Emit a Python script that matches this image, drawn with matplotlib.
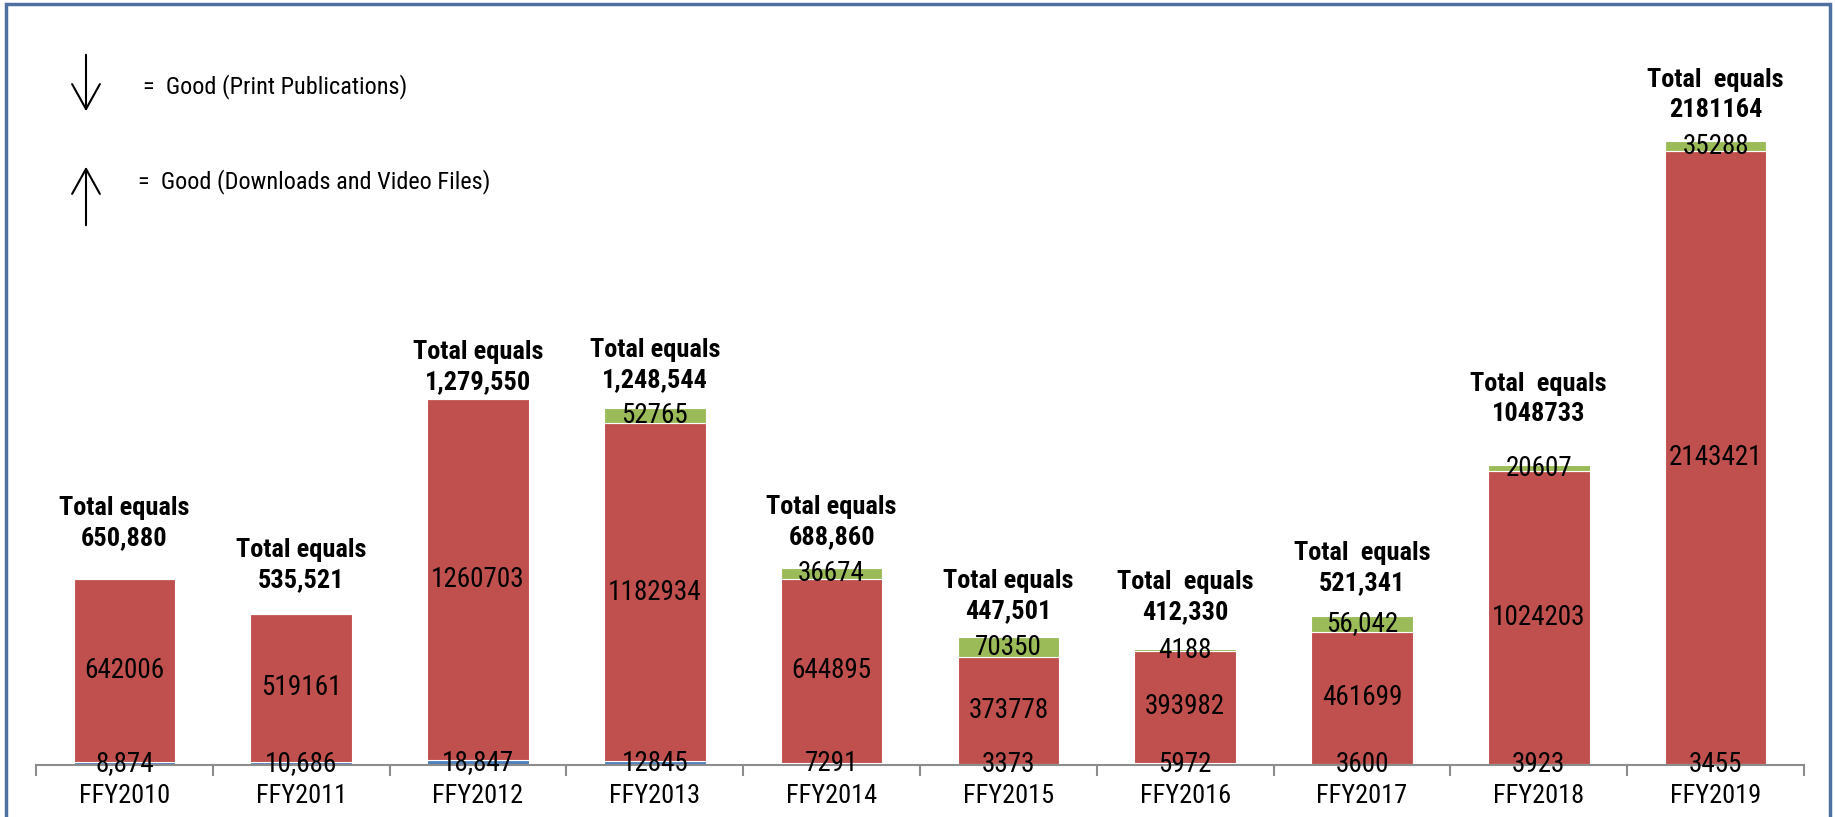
import matplotlib
matplotlib.use("Agg")
import matplotlib.pyplot as plt
from matplotlib.patches import Rectangle, FancyArrowPatch
import numpy as np

categories = ["FFY2010", "FFY2011", "FFY2012", "FFY2013", "FFY2014",
              "FFY2015", "FFY2016", "FFY2017", "FFY2018", "FFY2019"]
print_pubs = [8874, 10686, 18847, 12845, 7291, 3373, 5972, 3600, 3923, 3455]
downloads = [642006, 519161, 1260703, 1182934, 644895, 373778, 393982, 461699, 1024203, 2143421]
video = [0, 0, 0, 52765, 36674, 70350, 4188, 56042, 20607, 35288]
print_labels = ["8,874", "10,686", "18,847", "12845", "7291", "3373", "5972", "3600", "3923", "3455"]
download_labels = ["642006", "519161", "1260703", "1182934", "644895", "373778", "393982", "461699", "1024203", "2143421"]
video_labels = ["", "", "", "52765", "36674", "70350", "4188", "56,042", "20607", "35288"]
total_labels = ["Total equals\n650,880", "Total equals\n535,521", "Total equals\n1,279,550",
                "Total equals\n1,248,544", "Total equals\n688,860", "Total equals\n447,501",
                "Total  equals\n412,330", "Total  equals\n521,341", "Total  equals\n1048733",
                "Total  equals\n2181164"]

# layout: pixel gap between bar top and centre of the total's second line
total_gap_px = [42, 34, 18, 29, 32, 27, 38, 34, 52, 32]

FONT = ["Liberation Sans Narrow", "Roboto Condensed", "Liberation Sans", "DejaVu Sans"]
plt.rcParams["font.family"] = FONT

fig = plt.figure(figsize=(18.35, 8.17), dpi=100)
ax = fig.add_axes([36/1835, 52/817, (1804-36)/1835, (765-15)/817])

x = np.arange(len(categories))
w = 0.575
p = np.array(print_pubs, float)
d = np.array(downloads, float)
v = np.array(video, float)
ax.bar(x, p, w, color="#4F81BD", edgecolor="white", linewidth=0.8)
ax.bar(x, d, w, bottom=p, color="#C0504D", edgecolor="white", linewidth=0.8)
ax.bar(x, v, w, bottom=p + d, color="#9BBB59", edgecolor="white", linewidth=0.8)

fs = 19.5
tfs = 19
for i in range(len(x)):
    ax.text(x[i], p[i] / 2, print_labels[i], ha="center", va="center", fontsize=fs)
    ax.text(x[i], p[i] + d[i] / 2, download_labels[i], ha="center", va="center", fontsize=fs)
    if video_labels[i]:
        ax.text(x[i], p[i] + d[i] + v[i] / 2, video_labels[i], ha="center", va="center", fontsize=fs)
    ax.annotate(total_labels[i], (x[i], p[i] + d[i] + v[i]), xytext=(0, total_gap_px[i] - 13),
                textcoords="offset pixels", ha="center", va="bottom",
                fontsize=tfs, fontweight="bold", linespacing=1.32)

ax.set_xlim(-0.5, len(x) - 0.5)
ax.set_ylim(0, 750 / 2.858e-4)
for s in ["top", "right", "left"]:
    ax.spines[s].set_visible(False)
ax.spines["bottom"].set_color("#8C8C8C")
ax.spines["bottom"].set_linewidth(1.5)
ax.set_yticks([])
ax.set_xticks(x)
ax.set_xticklabels(categories, fontsize=19)
ax.tick_params(axis="x", which="major", length=0, pad=14)
ax.set_xticks(np.arange(-0.5, len(x)), minor=True)
ax.tick_params(axis="x", which="minor", length=8, width=1.5, color="#8C8C8C", direction="out")

def fy(ypix):
    return 1 - ypix / 817

fig.patches.append(FancyArrowPatch((86/1835, fy(52)), (86/1835, fy(114)),
                                   transform=fig.transFigure, arrowstyle="->,head_length=9,head_width=5",
                                   mutation_scale=2, color="black", lw=1.5))
fig.patches.append(FancyArrowPatch((86/1835, fy(228)), (86/1835, fy(164)),
                                   transform=fig.transFigure, arrowstyle="->,head_length=9,head_width=5",
                                   mutation_scale=2, color="black", lw=1.5))
fig.text(143/1835, fy(87), "=  Good (Print Publications)", fontsize=17.5, va="center", ha="left")
fig.text(138/1835, fy(182), "=  Good (Downloads and Video Files)", fontsize=17.5, va="center", ha="left")

fig.patches.append(Rectangle((6/1835, -0.05), (1830-6)/1835, 1.05 - 4/817,
                             transform=fig.transFigure, fill=False,
                             edgecolor="#4F6FA0", linewidth=2.5))

fig.savefig("out.png", dpi=100)
